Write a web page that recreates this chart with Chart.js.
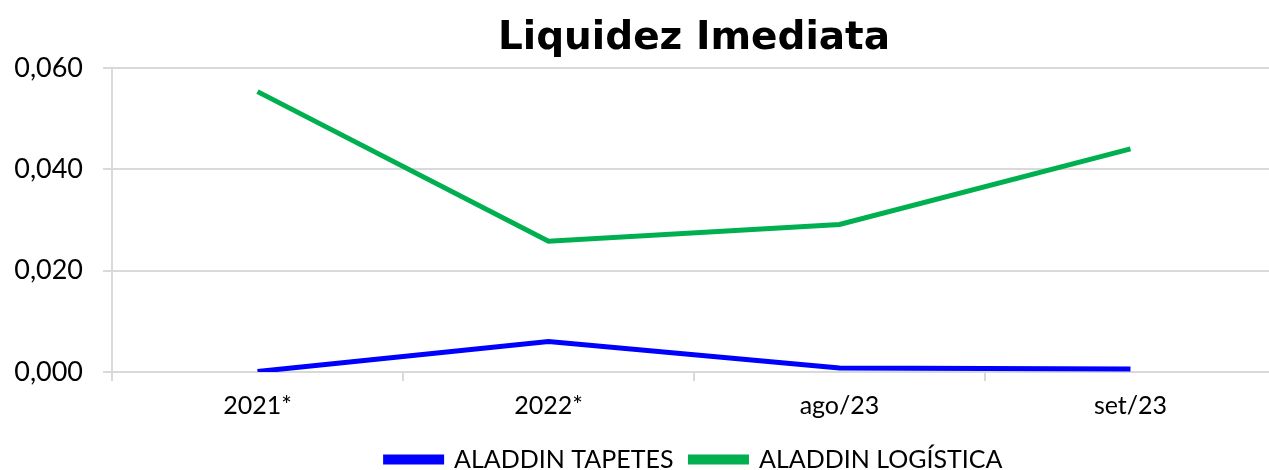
<!DOCTYPE html>
<html>
<head>
<meta charset="utf-8">
<script src="https://cdn.jsdelivr.net/npm/chart.js@4.4.0/dist/chart.umd.min.js"></script>
<style>
    html, body { margin: 0; padding: 0; background: #fff; overflow: hidden; }
    #wrap { width: 1280px; height: 470px; position: relative; }
</style>
</head>
<body>
<div id="wrap"><canvas id="liquidezChart"></canvas></div>
<script>
const categories = ['2021*', '2022*', 'ago/23', 'set/23'];
const tapetes = [0.0001, 0.0060, 0.0008, 0.0006];
const logistica = [0.0553, 0.0258, 0.0291, 0.0440];
const yTicks = [0, 0.02, 0.04, 0.06];

document.addEventListener('DOMContentLoaded', () => {
    setupChart();
});

function setupChart() {
    const ctx = document.getElementById('liquidezChart').getContext('2d');

    new Chart(ctx, {
        type: 'line',
        data: {
            labels: categories,
            datasets: [{
                label: 'ALADDIN TAPETES',
                data: tapetes,
                borderColor: '#0000FF',
                backgroundColor: '#0000FF',
                borderWidth: 5,
                pointRadius: 0,
                tension: 0
            }, {
                label: 'ALADDIN LOGÍSTICA',
                data: logistica,
                borderColor: '#00B050',
                backgroundColor: '#00B050',
                borderWidth: 5,
                pointRadius: 0,
                tension: 0
            }]
        },
        options: {
            responsive: true,
            maintainAspectRatio: false,
            animation: false,
            layout: { padding: { left: 0, right: 4, top: 0, bottom: -12 } },
            plugins: {
                title: {
                    display: true,
                    text: 'Liquidez Imediata',
                    fullSize: false,
                    color: '#000',
                    font: { family: 'DejaVu Sans', size: 39, weight: 'bold' },
                    padding: { top: 15, bottom: 6 }
                },
                legend: {
                    position: 'bottom',
                    fullSize: false,
                    labels: {
                        color: '#000',
                        font: { family: 'Lato', size: 25 },
                        boxWidth: 56,
                        boxHeight: 5,
                        padding: 17
                    }
                },
                tooltip: { enabled: false }
            },
            scales: {
                x: {
                    offset: true,
                    grid: {
                        offset: true,
                        drawOnChartArea: false,
                        drawTicks: true,
                        tickLength: 9,
                        color: '#D9D9D9',
                        lineWidth: 2
                    },
                    border: { display: false },
                    ticks: {
                        color: '#000',
                        font: { family: 'Lato', size: 25, lineHeight: 1.0 },
                        padding: 12
                    }
                },
                y: {
                    min: 0,
                    max: 0.06,
                    afterFit: (axis) => { axis.width = 112; },
                    afterBuildTicks: (axis) => {
                        axis.ticks = yTicks.map(v => ({ value: v }));
                    },
                    grid: {
                        color: '#D9D9D9',
                        lineWidth: 2,
                        tickLength: 9
                    },
                    border: { display: true, color: '#D9D9D9', width: 2 },
                    ticks: {
                        color: '#000',
                        font: { family: 'Lato', size: 27 },
                        padding: 20,
                        callback: (v) => v.toFixed(3).replace('.', ',')
                    }
                }
            }
        }
    });
}
</script>
</body>
</html>
